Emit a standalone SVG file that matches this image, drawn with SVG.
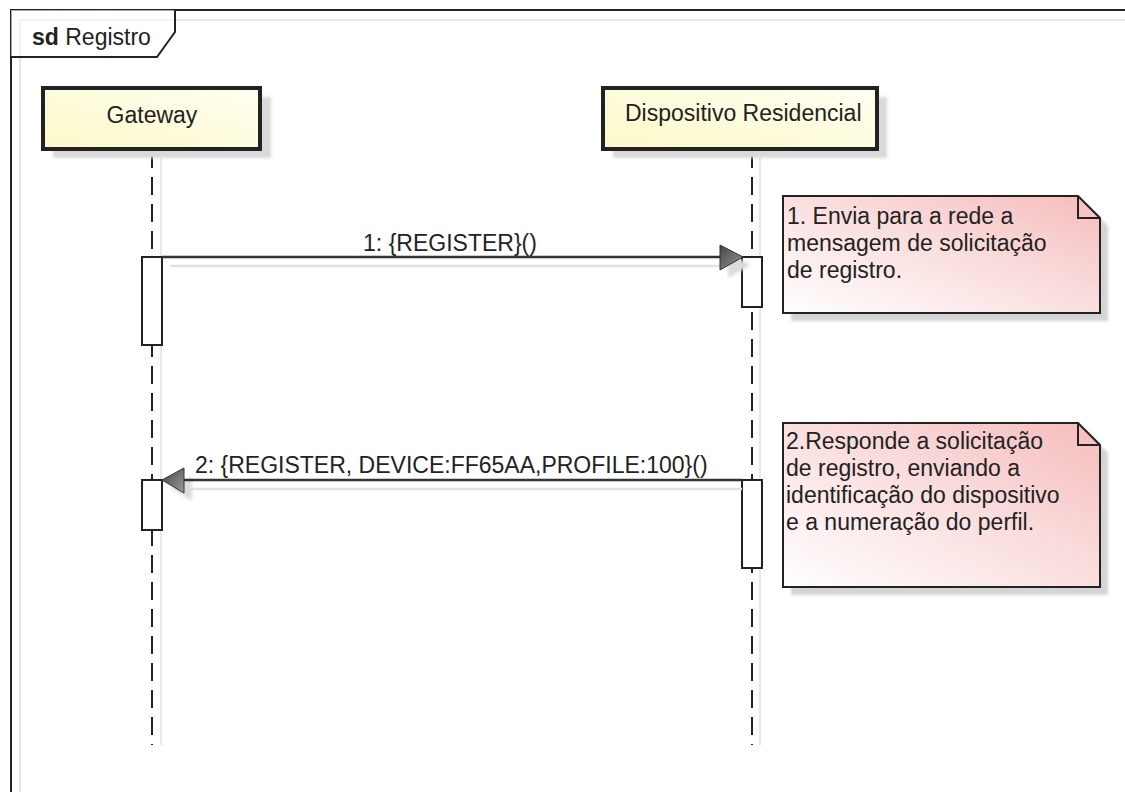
<svg xmlns="http://www.w3.org/2000/svg" width="1125" height="792" viewBox="0 0 1125 792">
  <style>
    text { font-family: "Liberation Sans", Arial, sans-serif; font-size: 23px; fill: #222; }
    .frame { fill: none; stroke: #222; stroke-width: 2; }
    .frameShadow { fill: none; stroke: #e6e6e6; stroke-width: 2; }
    .head { fill: url(#headFill); stroke: #222; stroke-width: 4; }
    .headShadow { fill: #d9d9d9; filter: url(#soft); }
    .life { stroke: #222; stroke-width: 2; stroke-dasharray: 18 9; }
    .lifeShadow { stroke: #e8e8e8; stroke-width: 2; }
    .act { fill: #fff; stroke: #222; stroke-width: 2; }
    .msg { stroke: #333; stroke-width: 2.5; fill: none; }
    .msgShadow { stroke: #e2e2e2; stroke-width: 2.5; fill: none; }
    .arrow { fill: url(#arrowFill); stroke: #333; stroke-width: 1; }
    .arrowShadow { fill: #dcdcdc; filter: url(#soft); }
    .note { fill: url(#noteFill); stroke: #222; stroke-width: 2; }
    .fold { fill: none; stroke: #222; stroke-width: 2; }
    .noteShadow { fill: #d4d4d4; filter: url(#soft); }
  </style>
  <defs>
    <filter id="soft" x="-10%" y="-10%" width="120%" height="120%">
      <feGaussianBlur stdDeviation="1.5"/>
    </filter>
    <linearGradient id="headFill" x1="0" y1="1" x2="1" y2="0">
      <stop offset="0" stop-color="#fcf9c8"/>
      <stop offset="1" stop-color="#fffff2"/>
    </linearGradient>
    <linearGradient id="noteFill" x1="0" y1="1" x2="1" y2="0">
      <stop offset="0" stop-color="#ffffff"/>
      <stop offset="0.55" stop-color="#fadcdc"/>
      <stop offset="1" stop-color="#f6bcbc"/>
    </linearGradient>
    <linearGradient id="arrowFill" x1="0" y1="0" x2="1" y2="1">
      <stop offset="0" stop-color="#444"/>
      <stop offset="1" stop-color="#9a9a9a"/>
    </linearGradient>
  </defs>

  <rect width="1125" height="792" fill="#fff"/>

  <!-- sequence diagram frame -->
  <g id="frame">
    <path class="frameShadow" d="M20,1125 V20 H1125"/>
    <rect class="frame" x="11" y="10" width="1130" height="800"/>
    <path fill="#fff" fill-opacity="0.6" d="M11,10 H175 V32 L157,57 H11 Z"/>
    <path class="frame" d="M11,57 H157 L175,32 V10"/>
    <text x="32" y="45" font-size="21px"><tspan font-weight="bold">sd</tspan> Registro</text>
  </g>

  <!-- lifelines -->
  <g id="lifelines">
    <line class="lifeShadow" x1="161" y1="157" x2="161" y2="745"/>
    <line class="lifeShadow" x1="760" y1="157" x2="760" y2="745"/>
    <line class="life" x1="152" y1="150" x2="152" y2="745"/>
    <line class="life" x1="752" y1="150" x2="752" y2="745"/>
  </g>

  <g id="gateway">
    <rect class="headShadow" x="53" y="97" width="218" height="61"/>
    <rect class="head" x="43" y="88" width="217" height="61"/>
    <text x="152" y="123" text-anchor="middle">Gateway</text>
  </g>

  <g id="dispositivo">
    <rect class="headShadow" x="613" y="97" width="274" height="61"/>
    <rect class="head" x="603" y="88" width="274" height="61"/>
    <text x="625" y="121">Dispositivo Residencial</text>
  </g>

  <!-- activation bars -->
  <g id="activations">
    <rect class="act" x="142" y="257" width="20" height="88"/>
    <rect class="act" x="742" y="257" width="20" height="50"/>
    <rect class="act" x="142" y="480" width="20" height="50"/>
    <rect class="act" x="742" y="480" width="20" height="88"/>
  </g>

  <!-- messages -->
  <g id="connectors">
    <line class="msgShadow" x1="170" y1="266" x2="728" y2="266"/>
    <polygon class="arrowShadow" points="728,253 751,265 728,278"/>
    <line class="msg" x1="162" y1="257" x2="722" y2="257"/>
    <polygon class="arrow" points="720,245 743,257 720,270"/>
    <text x="450" y="251" text-anchor="middle">1: {REGISTER}()</text>

    <line class="msgShadow" x1="190" y1="489" x2="742" y2="489"/>
    <polygon class="arrowShadow" points="192,476 170,488 192,501"/>
    <line class="msg" x1="182" y1="480" x2="742" y2="480"/>
    <polygon class="arrow" points="184,468 162,480 184,493"/>
    <text x="195" y="473">2: {REGISTER, DEVICE:FF65AA,PROFILE:100}()</text>
  </g>

  <!-- notes -->
  <g id="note1">
    <path class="noteShadow" d="M791,204 H1086 L1108,226 V321 H791 Z"/>
    <path class="note" d="M783,196 H1078 L1100,218 V313 H783 Z"/>
    <path class="fold" d="M1078,196 V218 H1100"/>
    <text x="787" y="224">1. Envia para a rede a</text>
    <text x="787" y="251">mensagem de solicitação</text>
    <text x="787" y="278">de registro.</text>
  </g>

  <g id="note2">
    <path class="noteShadow" d="M791,431 H1086 L1108,453 V595 H791 Z"/>
    <path class="note" d="M783,423 H1078 L1100,445 V587 H783 Z"/>
    <path class="fold" d="M1078,423 V445 H1100"/>
    <text x="786" y="449">2.Responde a solicitação</text>
    <text x="786" y="476">de registro, enviando a</text>
    <text x="786" y="503">identificação do dispositivo</text>
    <text x="786" y="530">e a numeração do perfil.</text>
  </g>
</svg>
